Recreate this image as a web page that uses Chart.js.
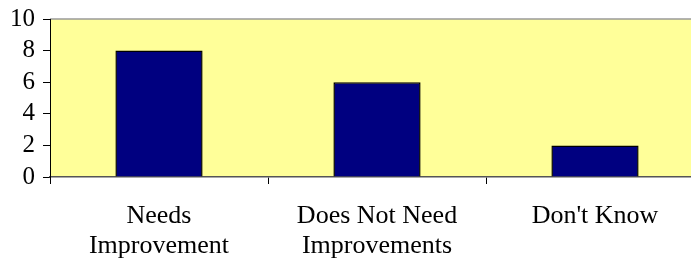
<!DOCTYPE html>
<html>
<head>
<meta charset="utf-8">
<script src="https://cdn.jsdelivr.net/npm/chart.js@4/dist/chart.umd.min.js"></script>
<style>
html,body{margin:0;padding:0;background:#fff;overflow:hidden;}
#wrap{width:704px;height:266px;position:relative;}
</style>
</head>
<body>
<div id="wrap"><canvas id="c" width="704" height="266"></canvas></div>
<script>
const categories = [["Needs", "Improvement"], ["Does Not Need", "Improvements"], ["Don't Know"]];
const values = [8, 6, 2];
const yTicks = [0, 2, 4, 6, 8, 10];

const plotBg = {
  id: 'plotBg',
  beforeDraw(chart) {
    const {ctx, chartArea: a} = chart;
    ctx.save();
    ctx.fillStyle = '#FFFF99';
    ctx.fillRect(a.left, a.top, a.right - a.left, a.bottom - a.top);
    ctx.strokeStyle = '#9a9a9a';
    ctx.lineWidth = 1.5;
    ctx.beginPath();
    ctx.moveTo(a.left, a.top);
    ctx.lineTo(a.right, a.top);
    ctx.stroke();
    ctx.restore();
  }
};

new Chart(document.getElementById('c'), {
  type: 'bar',
  data: {
    labels: categories,
    datasets: [{
      data: values,
      backgroundColor: '#000080',
      borderColor: '#000000',
      borderWidth: 1.5,
      barPercentage: 0.4,
      categoryPercentage: 1.0
    }]
  },
  options: {
    responsive: false,
    animation: false,
    layout: {padding: {top: 19, right: 0, left: 0, bottom: 0}},
    plugins: {legend: {display: false}, tooltip: {enabled: false}},
    scales: {
      x: {
        grid: {display: true, drawOnChartArea: false, drawTicks: true, tickLength: 7, color: '#000', offset: true},
        border: {display: true, color: '#555', width: 1.5},
        ticks: {
          color: '#000', maxRotation: 0, autoSkip: false, padding: 17,
          font: {family: '"Liberation Serif", "Times New Roman", serif', size: 26, lineHeight: 1.15}
        },
        afterFit(s) { s.height = 89; s.paddingLeft = 0; s.paddingRight = 0; }
      },
      y: {
        min: 0, max: 10,
        grid: {display: true, drawOnChartArea: false, drawTicks: true, tickLength: 7, color: '#000'},
        border: {display: true, color: '#000', width: 1},
        afterBuildTicks(s) { s.ticks = yTicks.map(v => ({value: v})); },
        ticks: {
          color: '#000', padding: 8, autoSkip: false,
          font: {family: '"Liberation Serif", "Times New Roman", serif', size: 25}
        },
        afterFit(s) { s.width = 50; s.paddingTop = 0; s.paddingBottom = 0; }
      }
    }
  },
  plugins: [plotBg]
});
</script>
</body>
</html>
